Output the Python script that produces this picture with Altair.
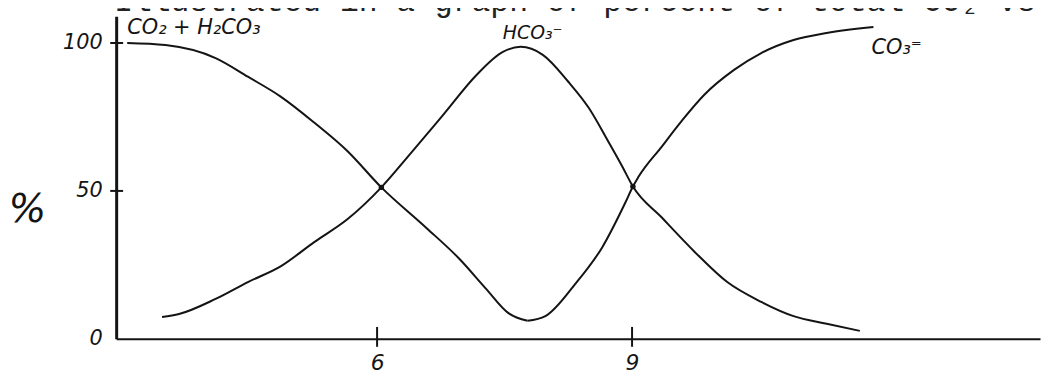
import altair as alt
import pandas as pd

# ---- data (pH vs percent of total CO2) ----
co2_ph = [3.06, 3.51, 4.10, 4.48, 4.87, 5.26, 5.65, 6.05, 6.58, 6.97, 7.28, 7.55, 7.77]
co2_pct = [100, 99.3, 94.9, 88.6, 81.8, 73.1, 63.5, 51.2, 37.5, 27.0, 17.0, 8.6, 6.1]

hco3_ph = [3.47, 3.67, 4.10, 4.48, 4.87, 5.26, 5.65, 6.05, 6.39, 6.78, 7.17, 7.48,
           7.69, 7.95, 8.25, 8.49, 8.72, 8.88, 9.01, 9.35, 9.74, 10.12, 10.52, 10.90, 11.29, 11.68]
hco3_pct = [7.4, 8.4, 13.5, 19.2, 24.6, 32.7, 40.4, 51.2, 62.5, 75.8, 89.2, 97.0,
            98.7, 96.0, 86.9, 78.1, 66.7, 58.5, 51.5, 41.0, 29.3, 19.2, 12.5, 7.7, 5.1, 2.7]

co3_ph = [7.77, 7.98, 8.33, 8.65, 8.92, 9.01, 9.07, 9.35, 9.58, 9.85, 10.20, 10.52, 10.90, 11.29, 11.84]
co3_pct = [6.1, 7.7, 18.5, 31.0, 46.0, 51.5, 54.5, 65.0, 73.5, 82.5, 90.9, 96.6, 101.0, 103.4, 105.4]

cross_ph = [6.05, 9.01]
cross_pct = [51.2, 51.5]

species = ["CO₂ + H₂CO₃", "HCO₃⁻", "CO₃⁼"]
x_tick_values = [6, 9]
y_tick_values = [0, 50, 100]
y_tick_marks = [50, 100]
heading = "Illustrated in a graph of percent of total CO₂ vs"

# ---- tables ----
frames = []
for name, xs, ys in zip(species, [co2_ph, hco3_ph, co3_ph], [co2_pct, hco3_pct, co3_pct]):
    frames.append(pd.DataFrame({"pH": xs, "pct": ys, "species": name}))
df = pd.concat(frames, ignore_index=True)

ink = "#141414"
hand_font = "DejaVu Sans"

xscale = alt.Scale(domain=[2.93, 13.8], nice=False, zero=False)
yscale = alt.Scale(domain=[0, 109], nice=False, zero=False)

x_axis = alt.Axis(values=x_tick_values, format="d", title=None, grid=False, ticks=False,
                  domainColor=ink, domainWidth=2, labelFont=hand_font, labelFontStyle="italic",
                  labelFontSize=22, labelColor=ink, labelPadding=14)
y_axis = alt.Axis(values=y_tick_values, format="d", title="%", grid=False, ticks=False,
                  domainColor=ink, domainWidth=3, labelFont=hand_font, labelFontStyle="italic",
                  labelFontSize=21, labelColor=ink, labelPadding=14,
                  titleAngle=0, titleFont=hand_font, titleFontStyle="italic", titleFontSize=40,
                  titleFontWeight="normal", titleColor=ink, titleX=-90, titleY=195,
                  titleAlign="center", titleBaseline="middle")

lines = alt.Chart(df).mark_line(interpolate="monotone", color=ink, strokeWidth=2).encode(
    x=alt.X("pH:Q", scale=xscale, axis=x_axis),
    y=alt.Y("pct:Q", scale=yscale, axis=y_axis),
    detail="species:N",
)

dots = alt.Chart(pd.DataFrame({"pH": cross_ph, "pct": cross_pct})).mark_circle(
    size=30, color=ink, opacity=1).encode(x=alt.X("pH:Q", scale=xscale), y=alt.Y("pct:Q", scale=yscale))

xticks = alt.Chart(pd.DataFrame({"pH": x_tick_values})).mark_rule(color=ink, strokeWidth=2).encode(
    x=alt.X("pH:Q", scale=xscale), y=alt.value(313), y2=alt.value(333))

yticks = alt.Chart(pd.DataFrame({"pct": y_tick_marks})).mark_rule(color=ink, strokeWidth=2).encode(
    y=alt.Y("pct:Q", scale=yscale), x=alt.value(-6), x2=alt.value(7))

def label(xs, ys, idx, text, dx, dy, align, size):
    d = pd.DataFrame({"pH": [xs[idx]], "pct": [ys[idx]], "label": [text]})
    return alt.Chart(d).mark_text(font=hand_font, fontStyle="italic", fontSize=size, color=ink,
                                  align=align, baseline="middle", dx=dx, dy=dy).encode(
        x=alt.X("pH:Q", scale=xscale), y=alt.Y("pct:Q", scale=yscale), text="label:N")

peak = hco3_pct.index(max(hco3_pct))
lab_co2 = label(co2_ph, co2_pct, 0, species[0], 0, -15, "left", 21)
lab_hco3 = label(hco3_ph, hco3_pct, peak, species[1], 12, -14, "center", 19)
lab_co3 = label(co3_ph, co3_pct, len(co3_ph) - 1, species[2], -2, 21, "left", 21)

head = alt.Chart(pd.DataFrame({"t": [heading]})).mark_text(
    font="Liberation Mono", fontSize=31.6, color="#222", align="left", baseline="alphabetic").encode(
    x=alt.value(-2), y=alt.value(-5), text="t:N")

chart = alt.layer(lines, dots, xticks, yticks, lab_co2, lab_hco3, lab_co3, head).properties(
    width=931, height=325,
    padding={"left": 109, "top": 7, "right": 2, "bottom": 36},
    autosize="none",
    background="white",
).configure_view(stroke=None)

chart.save("out.html", embed_options={"renderer": "svg", "actions": False})
